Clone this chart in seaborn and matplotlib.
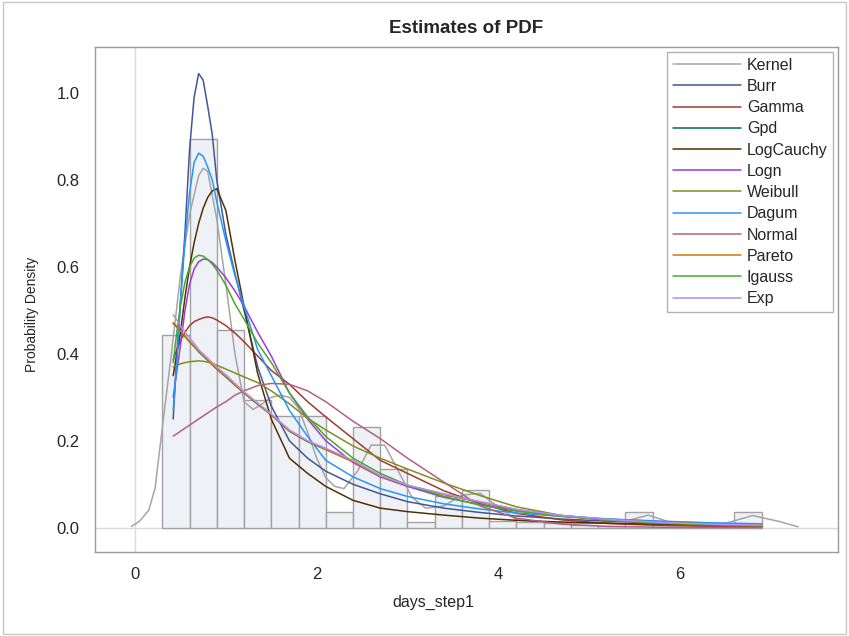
import numpy as np
import pandas as pd
import seaborn as sns
import matplotlib.pyplot as plt
from matplotlib.patches import Rectangle

# histogram (bin width 0.3 from 0.3 to 6.9)
bin_edges = [0.3, 0.6, 0.9, 1.2, 1.5, 1.8, 2.1, 2.4, 2.7, 3.0, 3.3, 3.6, 3.9,
             4.2, 4.5, 4.8, 5.1, 5.4, 5.7, 6.0, 6.3, 6.6, 6.9]
bin_heights = [0.443, 0.895, 0.455, 0.294, 0.258, 0.258, 0.037, 0.232, 0.136,
               0.012, 0.073, 0.087, 0.016, 0.012, 0.011, 0.006, 0.005, 0.037,
               0.0, 0.0, 0.0, 0.037]

# kernel density estimate
kernel_x = [-0.04, 0.05, 0.15, 0.22, 0.3, 0.4, 0.5, 0.6, 0.7, 0.75, 0.8, 0.9,
            1.0, 1.1, 1.2, 1.3, 1.4, 1.5, 1.6, 1.7, 1.8, 1.9, 2.0, 2.1, 2.2,
            2.3, 2.45, 2.6, 2.75, 2.9, 3.05, 3.2, 3.4, 3.6, 3.8, 4.0, 4.2,
            4.6, 5.0, 5.4, 5.65, 5.9, 6.2, 6.5, 6.8, 7.1, 7.3]
kernel_y = [0.003, 0.015, 0.04, 0.09, 0.23, 0.40, 0.58, 0.72, 0.81, 0.827,
            0.82, 0.71, 0.56, 0.40, 0.29, 0.272, 0.285, 0.30, 0.305, 0.30,
            0.275, 0.22, 0.16, 0.115, 0.095, 0.09, 0.13, 0.19, 0.19, 0.13,
            0.07, 0.045, 0.05, 0.075, 0.079, 0.048, 0.018, 0.012, 0.01, 0.015,
            0.029, 0.012, 0.005, 0.01, 0.028, 0.014, 0.002]

# fitted densities, all on the same x grid
fit_x = [0.42, 0.46, 0.5, 0.55, 0.6, 0.65, 0.7, 0.75, 0.8, 0.85, 0.9, 1.0,
         1.1, 1.2, 1.35, 1.5, 1.7, 1.9, 2.1, 2.4, 2.7, 3.0, 3.4, 3.8, 4.2,
         4.7, 5.2, 5.8, 6.4, 6.9]
burr = [0.25, 0.40, 0.52, 0.68, 0.87, 0.99, 1.045, 1.03, 0.97, 0.905, 0.80,
        0.675, 0.585, 0.50, 0.37, 0.28, 0.20, 0.16, 0.13, 0.10, 0.078, 0.06,
        0.045, 0.035, 0.027, 0.02, 0.015, 0.011, 0.008, 0.006]
gamma = [0.386, 0.41, 0.43, 0.45, 0.465, 0.474, 0.479, 0.483, 0.485, 0.483,
         0.478, 0.465, 0.448, 0.428, 0.395, 0.362, 0.33, 0.29, 0.255, 0.205,
         0.155, 0.125, 0.085, 0.055, 0.033, 0.018, 0.01, 0.005, 0.003, 0.002]
gpd = [0.47, 0.462, 0.452, 0.44, 0.428, 0.417, 0.405, 0.395, 0.385, 0.375,
       0.365, 0.347, 0.328, 0.31, 0.284, 0.26, 0.222, 0.198, 0.18, 0.152,
       0.118, 0.097, 0.077, 0.059, 0.041, 0.027, 0.018, 0.011, 0.007, 0.005]
logcauchy = [0.35, 0.40, 0.45, 0.53, 0.60, 0.655, 0.70, 0.735, 0.76, 0.775,
             0.78, 0.73, 0.615, 0.51, 0.355, 0.25, 0.16, 0.125, 0.095, 0.063,
             0.045, 0.037, 0.029, 0.022, 0.017, 0.013, 0.01, 0.008, 0.006,
             0.005]
logn = [0.30, 0.36, 0.42, 0.50, 0.56, 0.595, 0.612, 0.618, 0.617, 0.61, 0.60,
        0.575, 0.545, 0.51, 0.45, 0.395, 0.31, 0.25, 0.20, 0.15, 0.117, 0.095,
        0.07, 0.053, 0.04, 0.028, 0.02, 0.014, 0.01, 0.007]
weibull = [0.37, 0.374, 0.377, 0.38, 0.382, 0.383, 0.384, 0.383, 0.381, 0.378,
           0.374, 0.365, 0.356, 0.347, 0.334, 0.315, 0.285, 0.252, 0.225,
           0.188, 0.16, 0.135, 0.103, 0.074, 0.048, 0.028, 0.017, 0.01, 0.006,
           0.004]
dagum = [0.27, 0.38, 0.52, 0.66, 0.77, 0.84, 0.862, 0.855, 0.83, 0.80, 0.75,
         0.66, 0.58, 0.51, 0.41, 0.35, 0.27, 0.21, 0.155, 0.117, 0.09, 0.072,
         0.055, 0.043, 0.034, 0.026, 0.02, 0.015, 0.011, 0.009]
normal = [0.211, 0.216, 0.222, 0.229, 0.236, 0.243, 0.25, 0.257, 0.264, 0.271,
          0.278, 0.29, 0.305, 0.315, 0.327, 0.332, 0.33, 0.315, 0.29, 0.245,
          0.205, 0.16, 0.105, 0.05, 0.022, 0.008, 0.003, 0.001, 0.0005, 0.0002]
pareto = [0.472, 0.463, 0.453, 0.441, 0.429, 0.418, 0.406, 0.396, 0.386,
          0.376, 0.366, 0.348, 0.329, 0.311, 0.285, 0.26, 0.223, 0.199, 0.18,
          0.152, 0.119, 0.097, 0.077, 0.059, 0.042, 0.028, 0.018, 0.012,
          0.008, 0.006]
igauss = [0.38, 0.45, 0.51, 0.565, 0.60, 0.62, 0.627, 0.625, 0.617, 0.607,
          0.593, 0.558, 0.515, 0.48, 0.425, 0.38, 0.31, 0.255, 0.21, 0.16,
          0.125, 0.098, 0.072, 0.052, 0.038, 0.026, 0.018, 0.012, 0.008, 0.006]
expo = [0.49, 0.478, 0.465, 0.45, 0.437, 0.424, 0.41, 0.40, 0.39, 0.38, 0.37,
        0.352, 0.332, 0.313, 0.287, 0.262, 0.225, 0.20, 0.183, 0.155, 0.12,
        0.098, 0.078, 0.06, 0.042, 0.028, 0.019, 0.012, 0.008, 0.006]

fits = {'Burr': burr, 'Gamma': gamma, 'Gpd': gpd, 'LogCauchy': logcauchy,
        'Logn': logn, 'Weibull': weibull, 'Dagum': dagum, 'Normal': normal,
        'Pareto': pareto, 'Igauss': igauss, 'Exp': expo}

colors = {'Kernel': '#A5A5A5', 'Burr': '#445694', 'Gamma': '#A23A2E',
          'Gpd': '#01665E', 'LogCauchy': '#543005', 'Logn': '#9D3CDB',
          'Weibull': '#7F8E1F', 'Dagum': '#2597FA', 'Normal': '#B26084',
          'Pareto': '#D17800', 'Igauss': '#47A82A', 'Exp': '#B38EF3'}

sns.set_style('white')
plt.rcParams['font.family'] = ['Liberation Sans', 'DejaVu Sans']

fig = plt.figure(figsize=(8.49, 6.36), dpi=100)
ax = fig.add_axes([0.112, 0.132, 0.875, 0.794])

centers = [(a + b) / 2 for a, b in zip(bin_edges[:-1], bin_edges[1:])]
sns.histplot(x=centers, weights=bin_heights, bins=bin_edges, ax=ax,
             color='#EEF1F6', edgecolor='#A2A2A2', linewidth=1.0, alpha=1.0)

ax.axhline(0, color='#DADADA', lw=1, zorder=0.5)
ax.axvline(0, color='#DADADA', lw=1, zorder=0.5)

sns.lineplot(x=kernel_x, y=kernel_y, ax=ax, color=colors['Kernel'], lw=1.1,
             label='Kernel', sort=False)
for name, vals in fits.items():
    sns.lineplot(x=fit_x, y=vals, ax=ax, color=colors[name], lw=1.1,
                 label=name, sort=False)

ax.set_xlim(-0.44, 7.74)
ax.set_ylim(-0.056, 1.106)
ax.set_xticks([0, 2, 4, 6])
ax.set_yticks([0.0, 0.2, 0.4, 0.6, 0.8, 1.0])
ax.set_yticklabels(['0.0', '0.2', '0.4', '0.6', '0.8', '1.0'])
ax.tick_params(axis='both', direction='out', length=6.5, width=1,
               color='#9A9A9A', labelsize=12, pad=4.5)
for s in ax.spines.values():
    s.set_color('#9A9A9A')
    s.set_linewidth(1)

ax.set_xlabel('days_step1', fontsize=11.5)
ax.xaxis.set_label_coords(0.455, -0.085)
ax.set_ylabel('Probability Density', fontsize=10)
ax.yaxis.set_label_coords(-0.076, 0.47)
ax.set_title('Estimates of PDF', fontsize=13.5, fontweight='bold', pad=10)

leg = ax.legend(loc='upper right', bbox_to_anchor=(0.9935, 0.99),
                borderaxespad=0, fontsize=11.5, frameon=True, fancybox=False,
                handlelength=4.3, labelspacing=0.39, handletextpad=0.35,
                borderpad=0.35)
leg.get_frame().set_edgecolor('#A0A0A0')
leg.get_frame().set_linewidth(1)

fig.patches.append(Rectangle((0.004, 0.003), 0.992, 0.994,
                             transform=fig.transFigure, fill=False,
                             edgecolor='#C8C8C8', lw=1))

fig.savefig('out.png', dpi=100)
